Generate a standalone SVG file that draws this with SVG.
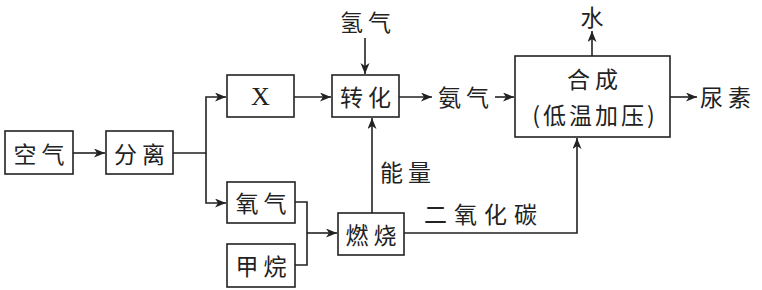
<svg xmlns="http://www.w3.org/2000/svg" width="762" height="290" viewBox="0 0 762 290">
<style>
.b{fill:#fff;stroke:#222;stroke-width:1.6}
.t{font-family:"Noto Sans CJK SC","Noto Sans CJK JP",sans-serif;font-size:23px;fill:#222;text-anchor:middle;dominant-baseline:central;letter-spacing:5px}
.x{font-family:"Liberation Serif",serif;font-size:26px;fill:#222;text-anchor:middle;dominant-baseline:central}
.c{fill:none;stroke:#222;stroke-width:1.6}
</style>
<defs>
<marker id="a" markerWidth="12" markerHeight="10" refX="11" refY="4.5" orient="auto" markerUnits="userSpaceOnUse">
<path d="M0,0 L11,4.5 L0,9 L3,4.5 z" fill="#222"/>
</marker>
</defs>
<g id="connectors">
<path class="c" d="M73,153 H105" marker-end="url(#a)"/>
<path class="c" d="M173,153 H206 V97 H226" marker-end="url(#a)"/>
<path class="c" d="M206,153 V203 H226" marker-end="url(#a)"/>
<path class="c" d="M294,97 H331" marker-end="url(#a)"/>
<path class="c" d="M365,38 V74" marker-end="url(#a)"/>
<path class="c" d="M399,97 H432" marker-end="url(#a)"/>
<path class="c" d="M495,97 H514" marker-end="url(#a)"/>
<path class="c" d="M592,56 V31" marker-end="url(#a)"/>
<path class="c" d="M670,97 H697" marker-end="url(#a)"/>
<path class="c" d="M295,202 H307 V265 H295"/>
<path class="c" d="M307,233 H337" marker-end="url(#a)"/>
<path class="c" d="M372,213 V118" marker-end="url(#a)"/>
<path class="c" d="M404,233 H577 V138" marker-end="url(#a)"/>
</g>
<g id="air"><rect class="b" x="5" y="131" width="68" height="43"/><text class="t" x="41.5" y="152.5">空气</text></g>
<g id="separate"><rect class="b" x="106" y="131" width="67" height="43"/><text class="t" x="142" y="152.5">分离</text></g>
<g id="X"><rect class="b" x="227" y="75" width="67" height="42"/><text class="x" x="260.5" y="96">X</text></g>
<g id="convert"><rect class="b" x="332" y="75" width="67" height="42"/><text class="t" x="368" y="96">转化</text></g>
<g id="hydrogen"><text class="t" x="368" y="21">氢气</text></g>
<g id="ammonia"><text class="t" x="466" y="96">氨气</text></g>
<g id="synth"><rect class="b" x="515" y="56" width="155" height="81"/><text class="t" x="595" y="78">合成</text><text class="t" x="595" y="114" style="letter-spacing:3px">(低温加压)</text></g>
<g id="water"><text class="t" x="594.5" y="16">水</text></g>
<g id="urea"><text class="t" x="728" y="96">尿素</text></g>
<g id="oxygen"><rect class="b" x="227" y="182" width="68" height="41"/><text class="t" x="263.5" y="202">氧气</text></g>
<g id="methane"><rect class="b" x="227" y="244" width="68" height="43"/><text class="t" x="263.5" y="265">甲烷</text></g>
<g id="burn"><rect class="b" x="338" y="213" width="66" height="42"/><text class="t" x="373.5" y="234">燃烧</text></g>
<g id="energy"><text class="t" x="408" y="171">能量</text></g>
<g id="co2"><text class="t" x="484" y="213" style="letter-spacing:7px">二氧化碳</text></g>
</svg>
